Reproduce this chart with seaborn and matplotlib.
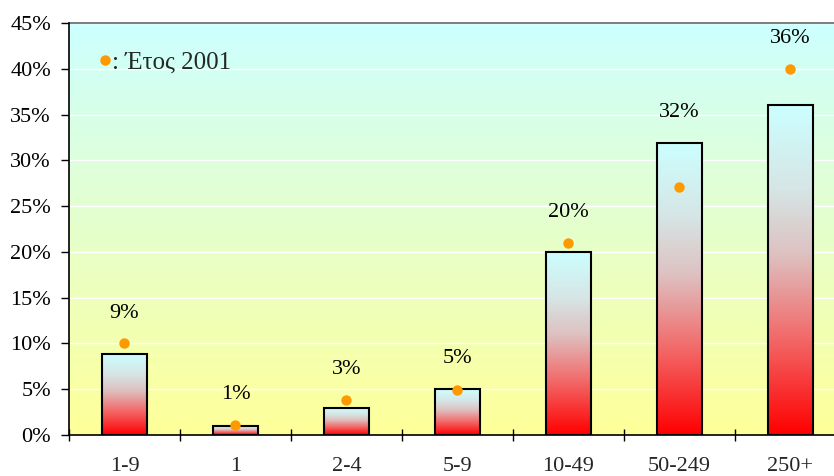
import numpy as np
import pandas as pd
import matplotlib
matplotlib.use("Agg")
import matplotlib.pyplot as plt
from matplotlib.colors import LinearSegmentedColormap
from matplotlib.ticker import FixedLocator, FuncFormatter
import seaborn as sns

# ---- data ----
categories = ["1-9", "1", "2-4", "5-9", "10-49", "50-249", "250+"]
values_now = [8.9, 1.0, 3.0, 5.0, 20.0, 31.9, 36.0]
value_labels = ["9%", "1%", "3%", "5%", "20%", "32%", "36%"]
values_2001 = [10.0, 1.1, 3.8, 4.9, 21.0, 27.1, 40.0]
legend_label = ": Έτος 2001"
y_ticks = [0, 5, 10, 15, 20, 25, 30, 35, 40, 45]

sns.set_theme(style="white")
plt.rcParams["font.family"] = ["Liberation Serif", "DejaVu Serif"]
plt.rcParams["font.size"] = 16

fig = plt.figure(figsize=(8.34, 4.76), dpi=100)
W, H = 834, 476
ax = fig.add_axes([69 / W, (H - 435) / H, 777 / W, 412 / H])

df = pd.DataFrame({"cat": categories, "val": values_now})
sns.barplot(data=df, x="cat", y="val", ax=ax, width=0.4,
            edgecolor="black", linewidth=1.5, color="white", zorder=3)

# background gradient: cyan top -> yellow bottom
bg = LinearSegmentedColormap.from_list("bg", [(1.0, 1.0, 0.60), (0.80, 1.0, 1.0)])
ax.imshow(np.linspace(0, 1, 256).reshape(-1, 1), extent=[-0.5, 6.5, 0, 45],
          origin="lower", aspect="auto", cmap=bg, zorder=0)

# bar gradients: red bottom -> cyan top
bar_cmap = LinearSegmentedColormap.from_list(
    "bar", [(0.0, (1.0, 0.0, 0.0)), (0.3, (0.95, 0.42, 0.42)),
            (0.55, (0.87, 0.76, 0.76)), (0.75, (0.84, 0.90, 0.90)),
            (1.0, (0.80, 1.0, 1.0))])
grad = np.linspace(0, 1, 256).reshape(-1, 1)
for p in list(ax.patches):
    x0, y0, w, h = p.get_x(), p.get_y(), p.get_width(), p.get_height()
    ax.imshow(grad, extent=[x0, x0 + w, y0, y0 + h], origin="lower",
              aspect="auto", cmap=bar_cmap, zorder=2)
    p.set_facecolor("none")
    p.set_zorder(3)

# grid lines
for t in y_ticks[1:]:
    ax.axhline(t, color="white", lw=1.0, zorder=1)

# 2001 dots
xpos = np.arange(len(categories))
ax.plot(xpos, values_2001, "o", color="#FF9900", markersize=7.5,
        markeredgewidth=0, zorder=4, label=legend_label)

# value labels
for i, (v, d, lab) in enumerate(zip(values_now, values_2001, value_labels)):
    top = max(v, d)
    ax.annotate(lab, (i, top), xytext=(0, 15), textcoords="offset points",
                ha="center", va="bottom", fontsize=16, color="black", zorder=5)

ax.set_xlim(-0.5, 6.5)
ax.set_ylim(0, 45)
ax.set_xlabel("")
ax.set_ylabel("")

ax.yaxis.set_major_locator(FixedLocator(y_ticks))
ax.yaxis.set_major_formatter(FuncFormatter(lambda v, _: f"{int(v)}%"))
ax.tick_params(axis="y", direction="out", length=6, width=1, pad=7,
               labelsize=16, left=True, colors="black")

ax.set_xticks(xpos)
ax.set_xticklabels(categories)
ax.tick_params(axis="x", which="major", length=0, pad=16, labelsize=16)
ax.set_xticks(np.arange(-0.5, 7, 1), minor=True)
ax.tick_params(axis="x", which="minor", direction="inout", length=9, width=1,
               bottom=True, color="black")

for s in ["left", "bottom"]:
    ax.spines[s].set_color("black")
    ax.spines[s].set_linewidth(1.2)
    ax.spines[s].set_zorder(6)
ax.spines["top"].set_color("#666666")
ax.spines["top"].set_linewidth(1.2)
ax.spines["right"].set_visible(False)

leg = ax.legend(loc="upper left", bbox_to_anchor=(0.025, 0.955), frameon=False,
                handlelength=0.5, handletextpad=0.05, fontsize=18,
                borderaxespad=0)

fig.savefig("out.png", dpi=100)
